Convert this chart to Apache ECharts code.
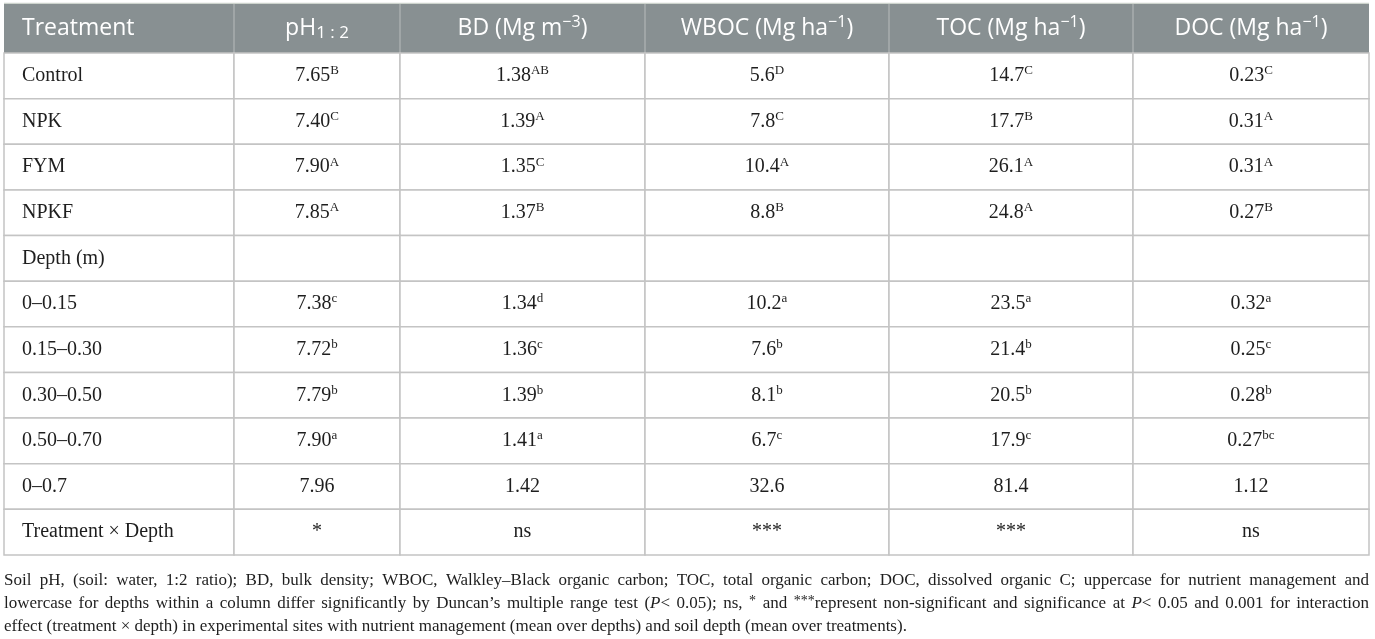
<!DOCTYPE html>
<html>
<head>
<meta charset="utf-8">
<script src="https://cdn.jsdelivr.net/npm/echarts@6/dist/echarts.min.js"></script>
<style>
  html, body { margin: 0; padding: 0; background: #fff; }
  #chart { width: 1375px; height: 639px; }
</style>
</head>
<body>
<div id="chart"></div>
<script>
// 表头 ({sub|..} 下标, {sup|..} 上标)
const headers = ['Treatment', 'pH{sub|1 : 2}', 'BD (Mg m{sup|−3})', 'WBOC (Mg ha{sup|−1})', 'TOC (Mg ha{sup|−1})', 'DOC (Mg ha{sup|−1})'];
const rowLabels = ['Control', 'NPK', 'FYM', 'NPKF', 'Depth (m)', '0–0.15', '0.15–0.30', '0.30–0.50', '0.50–0.70', '0–0.7', 'Treatment × Depth'];

const phValues   = ['7.65', '7.40', '7.90', '7.85', '', '7.38', '7.72', '7.79', '7.90', '7.96', '*'];
const phLetters  = ['B', 'C', 'A', 'A', '', 'c', 'b', 'b', 'a', '', ''];
const bdValues   = ['1.38', '1.39', '1.35', '1.37', '', '1.34', '1.36', '1.39', '1.41', '1.42', 'ns'];
const bdLetters  = ['AB', 'A', 'C', 'B', '', 'd', 'c', 'b', 'a', '', ''];
const wbocValues = ['5.6', '7.8', '10.4', '8.8', '', '10.2', '7.6', '8.1', '6.7', '32.6', '***'];
const wbocLetters = ['D', 'C', 'A', 'B', '', 'a', 'b', 'b', 'c', '', ''];
const tocValues  = ['14.7', '17.7', '26.1', '24.8', '', '23.5', '21.4', '20.5', '17.9', '81.4', '***'];
const tocLetters = ['C', 'B', 'A', 'A', '', 'a', 'b', 'b', 'c', '', ''];
const docValues  = ['0.23', '0.31', '0.31', '0.27', '', '0.32', '0.25', '0.28', '0.27', '1.12', 'ns'];
const docLetters = ['C', 'A', 'A', 'B', '', 'a', 'c', 'b', 'bc', '', ''];

// 脚注 ({i|..} 斜体, {sup|..} 上标)
const footnoteLines = [
  'Soil pH, (soil: water, 1:2 ratio); BD, bulk density; WBOC, Walkley–Black organic carbon; TOC, total organic carbon; DOC, dissolved organic C; uppercase for nutrient management and',
  'lowercase for depths within a column differ significantly by Duncan’s multiple range test ({i|P}< 0.05); ns, {sup|*} and {sup|***}represent non-significant and significance at {i|P}< 0.05 and 0.001 for interaction',
  'effect (treatment × depth) in experimental sites with nutrient management (mean over depths) and soil depth (mean over treatments).'
];

// 列宽 (布局)
const colWidths = [230, 166, 245, 244, 244, 236];
const colEdges = [0];
colWidths.forEach(w => colEdges.push(colEdges[colEdges.length - 1] + w));
const totalWidth = colEdges[colEdges.length - 1];

const valueCols = [phValues, bdValues, wbocValues, tocValues, docValues];
const letterCols = [phLetters, bdLetters, wbocLetters, tocLetters, docLetters];

const SERIF = '"Liberation Serif", "DejaVu Serif", serif';
const SANS = '"Open Sans", "Noto Sans", sans-serif';
const TEXT_COLOR = '#1e1e1e';

// 各段字体与相对中线的偏移
const bodyFonts = {
  n:   { font: '20px ' + SERIF, dy: 0 },
  sup: { font: '13px ' + SERIF, dy: -5 }
};
const headFonts = {
  n:   { font: '23px ' + SANS, dy: 0 },
  sub: { font: '17px ' + SANS, dy: 5 },
  sup: { font: '16px ' + SANS, dy: -6 }
};
const footFonts = {
  n:   { font: '17px ' + SERIF, dy: 0 },
  i:   { font: 'italic 17px ' + SERIF, dy: 0 },
  sup: { font: '14px ' + SERIF, dy: -3 }
};

const measureCtx = document.createElement('canvas').getContext('2d');
function textWidth(text, font) {
  measureCtx.font = font;
  return measureCtx.measureText(text).width;
}

function parseMarkup(str) {
  let re = /\{(\w+)\|([^}]*)\}|([^{]+)/g, m, segs = [];
  while ((m = re.exec(str)) !== null) {
    if (m[3]) segs.push({ kind: 'n', text: m[3] });
    else segs.push({ kind: m[1], text: m[2] });
  }
  return segs;
}

function cellMarkup(c, r) {
  if (c === 0) return rowLabels[r];
  let v = valueCols[c - 1][r];
  let l = letterCols[c - 1][r];
  return l ? v + '{sup|' + l + '}' : v;
}

function markupWidth(markup, fonts) {
  return parseMarkup(markup).reduce((a, s) => a + textWidth(s.text, fonts[s.kind].font), 0);
}

// 把一段带标记的文字拆成几个 text 元素, 从 x 开始左对齐
function markupTexts(markup, fonts, x, y, color) {
  return parseMarkup(markup).map(s => {
    let el = {
      type: 'text',
      silent: true,
      style: {
        text: s.text,
        x: x,
        y: y + fonts[s.kind].dy,
        align: 'left',
        verticalAlign: 'middle',
        font: fonts[s.kind].font,
        fill: color
      }
    };
    x += textWidth(s.text, fonts[s.kind].font);
    return el;
  });
}

function cellTexts(markup, fonts, b, leftAlign, color) {
  let total = markupWidth(markup, fonts);
  let x = leftAlign ? b.left + 18 : (b.left + b.right) / 2 - total / 2;
  return markupTexts(markup, fonts, x, b.cy, color);
}

function cellBounds(api, c, r) {
  let left = api.coord([colEdges[c], r])[0];
  let right = api.coord([colEdges[c + 1], r])[0];
  let cy = api.coord([0, r])[1];
  let h = api.size([0, 1])[1];
  return { left, right, cy, h };
}

function renderBody(params, api) {
  let c = api.value(0), r = api.value(1);
  let b = cellBounds(api, c, r);
  return {
    type: 'group',
    children: [{
      type: 'rect',
      shape: { x: b.left, y: b.cy - b.h / 2, width: b.right - b.left, height: b.h },
      style: { fill: '#fff', stroke: '#c4c4c4', lineWidth: 1.5 }
    }].concat(cellTexts(cellMarkup(c, r), bodyFonts, b, c === 0, TEXT_COLOR))
  };
}

function renderHead(params, api) {
  let c = api.value(0), r = api.value(1);
  let b = cellBounds(api, c, r);
  let children = [{
    type: 'rect',
    shape: { x: b.left, y: b.cy - b.h / 2, width: b.right - b.left, height: b.h },
    style: { fill: '#889092' }
  }];
  if (c > 0) {
    children.push({
      type: 'line',
      shape: { x1: b.left, y1: b.cy - b.h / 2, x2: b.left, y2: b.cy + b.h / 2 },
      style: { stroke: '#a9aeae', lineWidth: 1.5 }
    });
  }
  return { type: 'group', children: children.concat(cellTexts(headers[c], headFonts, b, c === 0, '#fff')) };
}

let bodyData = [];
rowLabels.forEach((name, r) => {
  for (let c = 0; c < colWidths.length; c++) bodyData.push([c, r]);
});
let headData = headers.map((h, c) => [c, 0]);

// 脚注两端对齐 (最后一行左对齐)
function footnoteGraphics(left, right, top, lineGap) {
  let els = [];
  let spaceW = textWidth(' ', footFonts.n.font);
  footnoteLines.forEach((line, li) => {
    let words = line.split(' ');
    let widths = words.map(w => markupWidth(w, footFonts));
    let sum = widths.reduce((a, b) => a + b, 0);
    let justify = li < footnoteLines.length - 1;
    let gap = justify ? Math.max(2, (right - left - sum) / (words.length - 1)) : spaceW;
    let x = left;
    words.forEach((w, wi) => {
      els = els.concat(markupTexts(w, footFonts, x, top + li * lineGap, TEXT_COLOR));
      x += widths[wi] + gap;
    });
  });
  return els;
}

const chart = echarts.init(document.getElementById('chart'), null, { renderer: 'canvas' });

const option = {
  animation: false,
  backgroundColor: '#fff',
  grid: [
    { left: 4, top: 4, width: totalWidth, height: 49 },
    { left: 4, top: 53, width: totalWidth, height: 502 }
  ],
  xAxis: [
    { type: 'value', gridIndex: 0, min: 0, max: totalWidth, show: false },
    { type: 'value', gridIndex: 1, min: 0, max: totalWidth, show: false }
  ],
  yAxis: [
    { type: 'category', gridIndex: 0, data: ['header'], show: false },
    { type: 'category', gridIndex: 1, data: rowLabels, inverse: true, show: false }
  ],
  series: [{
    type: 'custom',
    name: 'head',
    xAxisIndex: 0,
    yAxisIndex: 0,
    silent: true,
    renderItem: renderHead,
    data: headData
  }, {
    type: 'custom',
    name: 'body',
    xAxisIndex: 1,
    yAxisIndex: 1,
    silent: true,
    renderItem: renderBody,
    data: bodyData
  }],
  graphic: [{
    type: 'line',
    silent: true,
    shape: { x1: 4, y1: 3.5, x2: 4 + totalWidth, y2: 3.5 },
    style: { stroke: '#cdd4cd', lineWidth: 1.5 }
  }].concat(footnoteGraphics(4, 4 + totalWidth, 581, 23))
};

chart.setOption(option);
</script>
</body>
</html>
